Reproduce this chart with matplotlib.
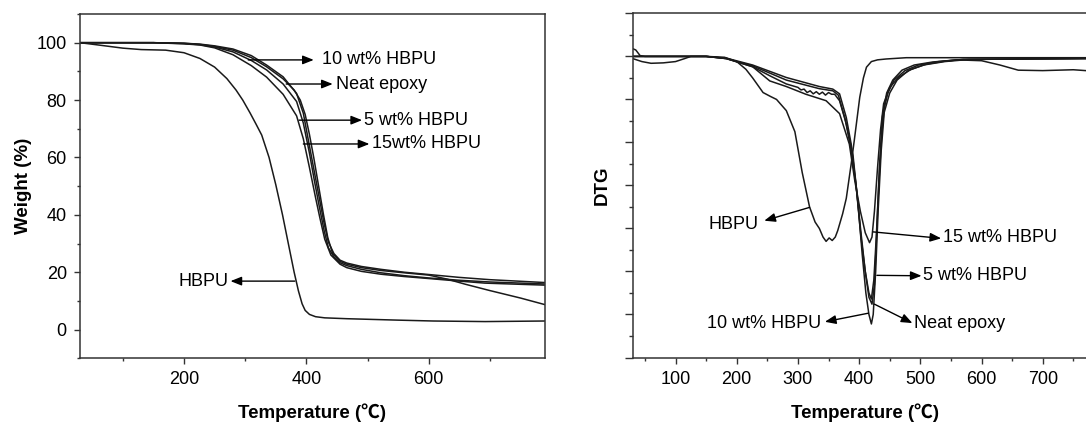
import matplotlib
matplotlib.use("Agg")
import matplotlib.pyplot as plt
from matplotlib.ticker import MultipleLocator, NullFormatter

plt.rcParams['font.family'] = ['Liberation Sans', 'Noto Sans CJK SC', 'DejaVu Sans']

# ---------------- TGA data (Temperature in C, weight %) ----------------
tga_hbpu_T = [30, 60, 100, 130, 170, 200, 226, 250, 270, 285, 296, 308, 318, 327, 339, 350, 361, 370, 380, 387, 393, 398, 405, 415, 430, 466, 550, 607, 692, 790]
tga_hbpu_W = [100, 99.2, 98.1, 97.6, 97.4, 96.5, 94.5, 91.5, 87.5, 83.5, 80, 75.5, 71.5, 67.8, 60, 50.5, 40, 30.5, 20, 13.5, 9, 6.7, 5.3, 4.5, 4.1, 3.8, 3.3, 3.0, 2.8, 3.0]

tga_neat_T = [30, 150, 200, 226, 250, 280, 310, 335, 362, 380, 390, 398, 405, 412, 420, 428, 435, 443, 455, 466, 490, 522, 560, 600, 630, 660, 700, 750, 790]
tga_neat_W = [100, 100, 99.8, 99.4, 98.7, 97.4, 94.8, 91.6, 87.4, 83.5, 80, 75, 68, 60, 50, 40, 32, 26.5, 23.8, 22.8, 21.6, 20.6, 19.8, 19.0, 17.6, 15.8, 13.6, 11.0, 8.7]

tga_10_T = [30, 150, 200, 226, 250, 280, 310, 335, 362, 384, 395, 405, 413, 421, 429, 436, 445, 455, 466, 490, 522, 560, 600, 650, 700, 790]
tga_10_W = [100, 100, 99.8, 99.5, 98.9, 97.8, 95.5, 92.2, 88.1, 82.3, 75.4, 64, 55, 46, 37, 30.5, 26.5, 24.2, 23.2, 22, 21, 20, 19.2, 18.2, 17.4, 16.4]

tga_5_T = [30, 150, 200, 226, 250, 280, 310, 335, 362, 384, 395, 405, 413, 421, 429, 436, 445, 455, 466, 490, 522, 560, 600, 650, 700, 790]
tga_5_W = [100, 100, 99.7, 99.3, 98.5, 96.8, 93.8, 90.5, 85.6, 79.5, 72, 61.5, 52, 43, 34.5, 28.5, 25.3, 23.3, 22.3, 21, 19.8, 18.8, 18.0, 17.2, 16.6, 15.9]

tga_15_T = [30, 150, 200, 226, 250, 280, 310, 335, 362, 384, 395, 405, 415, 422, 430, 440, 455, 466, 490, 522, 560, 600, 650, 692, 790]
tga_15_W = [100, 100, 99.6, 99.2, 98.2, 95.8, 92.0, 88.0, 82.0, 74.5, 66.5, 56.5, 46, 39, 31.5, 26, 22.8, 21.6, 20.3, 19.3, 18.5, 17.8, 16.9, 16.2, 15.5]

# ---------------- DTG data (Temperature in C, arbitrary DTG units) ----------------
dtg_hbpu_T = [30, 45, 60, 80, 100, 115, 125, 150, 180, 200, 215, 226, 243, 255, 265, 281, 295, 307, 319, 328, 335, 341, 346, 351, 356, 361, 365, 373, 379, 387, 392, 401, 407, 412, 420, 430, 444, 477, 550, 600, 650, 700, 790]
dtg_hbpu_V = [-0.05, -0.12, -0.16, -0.15, -0.12, -0.05, 0.0, 0.0, -0.02, -0.12, -0.3, -0.5, -0.84, -0.93, -1.0, -1.26, -1.75, -2.7, -3.5, -3.85, -4.0, -4.2, -4.3, -4.22, -4.28, -4.2, -4.05, -3.66, -3.3, -2.5, -1.96, -0.95, -0.5, -0.25, -0.12, -0.08, -0.06, -0.03, -0.03, -0.03, -0.03, -0.03, -0.03]

dtg_neat_T = [30, 100, 150, 183, 226, 281, 335, 357, 368, 379, 387, 395, 403, 410, 416, 421, 425, 429, 433, 438, 445, 455, 470, 490, 520, 560, 600, 630, 660, 700, 750, 790]
dtg_neat_V = [0.0, 0.0, 0.0, -0.04, -0.2, -0.49, -0.70, -0.76, -0.87, -1.42, -2.04, -3.0, -4.1, -5.0, -5.6, -5.76, -5.3, -4.0, -2.6, -1.4, -0.85, -0.55, -0.32, -0.2, -0.13, -0.08, -0.1, -0.2, -0.32, -0.33, -0.31, -0.35]

dtg_5_T = [30, 35, 42, 50, 100, 150, 183, 226, 281, 335, 357, 366, 377, 386, 395, 403, 410, 416, 420, 424, 428, 432, 437, 441, 447, 457, 475, 497, 530, 570, 790]
dtg_5_V = [0.18, 0.15, 0.02, 0.0, 0.0, 0.0, -0.05, -0.22, -0.55, -0.75, -0.80, -0.9, -1.45, -2.1, -3.0, -4.2, -5.0, -5.5, -5.64, -5.2, -4.2, -3.0, -1.8, -1.2, -0.85, -0.55, -0.33, -0.2, -0.12, -0.07, -0.05]

dtg_10_T = [30, 100, 150, 183, 226, 254, 281, 300, 305, 310, 315, 320, 325, 330, 335, 340, 345, 350, 355, 360, 368, 379, 390, 398, 405, 411, 416, 420, 423, 427, 431, 436, 441, 450, 462, 480, 505, 540, 580, 790]
dtg_10_V = [0.0, 0.0, 0.0, -0.05, -0.24, -0.45, -0.64, -0.72, -0.78, -0.76, -0.84, -0.8, -0.87, -0.82, -0.88, -0.83, -0.9, -0.84, -0.88, -0.88, -1.03, -1.57, -2.3, -3.4, -4.6, -5.5, -6.0, -6.22, -6.0, -5.0, -3.6, -2.2, -1.3, -0.85, -0.55, -0.33, -0.2, -0.12, -0.07, -0.04]

dtg_15_T = [30, 100, 150, 183, 226, 254, 281, 313, 346, 368, 384, 393, 402, 410, 417, 421, 425, 430, 435, 440, 450, 465, 485, 510, 540, 570, 790]
dtg_15_V = [0.0, 0.0, 0.0, -0.05, -0.24, -0.57, -0.70, -0.88, -1.03, -1.33, -2.04, -2.9, -3.6, -4.1, -4.33, -4.2, -3.6, -2.6, -1.7, -1.1, -0.72, -0.48, -0.3, -0.18, -0.11, -0.07, -0.05]

x_limits = (30, 790)

W, H = 1086, 424
fig = plt.figure(figsize=(W / 100, H / 100), dpi=100)

spine_col = '#333333'
line_col = '#1a1a1a'
lw = 1.1
tick_fs = 13
label_fs = 13.5
ann_fs = 13


def px_box(x0, y0, x1, y1):
    return [x0 / W, 1 - y1 / H, (x1 - x0) / W, (y1 - y0) / H]


def style(ax):
    for s in ax.spines.values():
        s.set_color(spine_col)
        s.set_linewidth(1.1)
    ax.tick_params(which='both', direction='out', color=spine_col, width=1.0,
                   labelsize=tick_fs, top=False, right=False)
    ax.tick_params(which='major', length=4.5, pad=5)
    ax.tick_params(which='minor', length=2.5)


arrow_kw = dict(arrowstyle='-|>,head_length=0.55,head_width=0.22', color='black',
                lw=1.0, shrinkA=0, shrinkB=0, mutation_scale=12)

# ---------------- Left: TGA ----------------
ax1 = fig.add_axes(px_box(80, 14, 545, 358.3))
for T, Wt in [(tga_hbpu_T, tga_hbpu_W), (tga_neat_T, tga_neat_W), (tga_10_T, tga_10_W),
              (tga_5_T, tga_5_W), (tga_15_T, tga_15_W)]:
    ax1.plot(T, Wt, color=line_col, lw=lw)
ax1.set_xlim(*x_limits)
ax1.set_ylim(-10, 110)
ax1.xaxis.set_major_locator(MultipleLocator(200))
ax1.xaxis.set_minor_locator(MultipleLocator(100))
ax1.yaxis.set_major_locator(MultipleLocator(20))
ax1.yaxis.set_minor_locator(MultipleLocator(10))
ax1.set_yticks([0, 20, 40, 60, 80, 100])
style(ax1)
ax1.set_xlabel('Temperature (℃)', fontsize=label_fs, fontweight='bold', labelpad=11)
ax1.set_ylabel('Weight (%)', fontsize=label_fs, fontweight='bold', labelpad=3)

left_ann = [
    ('10 wt% HBPU', (305, 94), (412, 94), (426, 94)),
    ('Neat epoxy', (367, 85.6), (443, 85.6), (449, 85.6)),
    ('5 wt% HBPU', (388, 73), (491, 73), (494, 73)),
    ('15wt% HBPU', (395, 64.7), (503, 64.7), (507, 64.7)),
]
for txt, tail, head, tpos in left_ann:
    ax1.annotate('', xy=head, xytext=tail, arrowprops=arrow_kw)
    ax1.text(tpos[0], tpos[1], txt, fontsize=ann_fs, ha='left', va='center')
ax1.annotate('', xy=(276, 16.9), xytext=(381, 16.9), arrowprops=arrow_kw)
ax1.text(273, 16.9, 'HBPU', fontsize=ann_fs, ha='right', va='center')

# ---------------- Right: DTG ----------------
r_x0 = 632.7
r_x1 = r_x0 + (x_limits[1] - x_limits[0]) * 0.612
ax2 = fig.add_axes(px_box(r_x0, 13.4, r_x1, 357.5))
for T, V in [(dtg_hbpu_T, dtg_hbpu_V), (dtg_neat_T, dtg_neat_V), (dtg_5_T, dtg_5_V),
             (dtg_10_T, dtg_10_V), (dtg_15_T, dtg_15_V)]:
    ax2.plot(T, V, color=line_col, lw=lw)
ax2.set_xlim(*x_limits)
ax2.set_ylim(-7, 1)
ax2.xaxis.set_major_locator(MultipleLocator(100))
ax2.xaxis.set_minor_locator(MultipleLocator(50))
ax2.yaxis.set_major_locator(MultipleLocator(1))
ax2.yaxis.set_minor_locator(MultipleLocator(0.5))
ax2.yaxis.set_major_formatter(NullFormatter())
style(ax2)
ax2.tick_params(axis='y', which='major', length=6)
ax2.tick_params(axis='y', which='minor', length=3)
ax2.set_xticks([100, 200, 300, 400, 500, 600, 700])
ax2.set_xlabel('Temperature (℃)', fontsize=label_fs, fontweight='bold', labelpad=11)
ax2.set_ylabel('DTG', fontsize=label_fs, fontweight='bold', labelpad=5)

ax2.annotate('', xy=(245, -3.82), xytext=(319, -3.51), arrowprops=arrow_kw)
ax2.text(236, -3.9, 'HBPU', fontsize=ann_fs, ha='right', va='center')
ax2.annotate('', xy=(534, -4.23), xytext=(423, -4.08), arrowprops=arrow_kw)
ax2.text(537, -4.2, '15 wt% HBPU', fontsize=ann_fs, ha='left', va='center')
ax2.annotate('', xy=(502, -5.1), xytext=(429, -5.09), arrowprops=arrow_kw)
ax2.text(505, -5.1, '5 wt% HBPU', fontsize=ann_fs, ha='left', va='center')
ax2.annotate('', xy=(344, -6.17), xytext=(415, -5.97), arrowprops=arrow_kw)
ax2.text(338, -6.22, '10 wt% HBPU', fontsize=ann_fs, ha='right', va='center')
ax2.annotate('', xy=(487, -6.2), xytext=(425, -5.76), arrowprops=arrow_kw)
ax2.text(490, -6.22, 'Neat epoxy', fontsize=ann_fs, ha='left', va='center')

fig.savefig('out.png', dpi=100)
